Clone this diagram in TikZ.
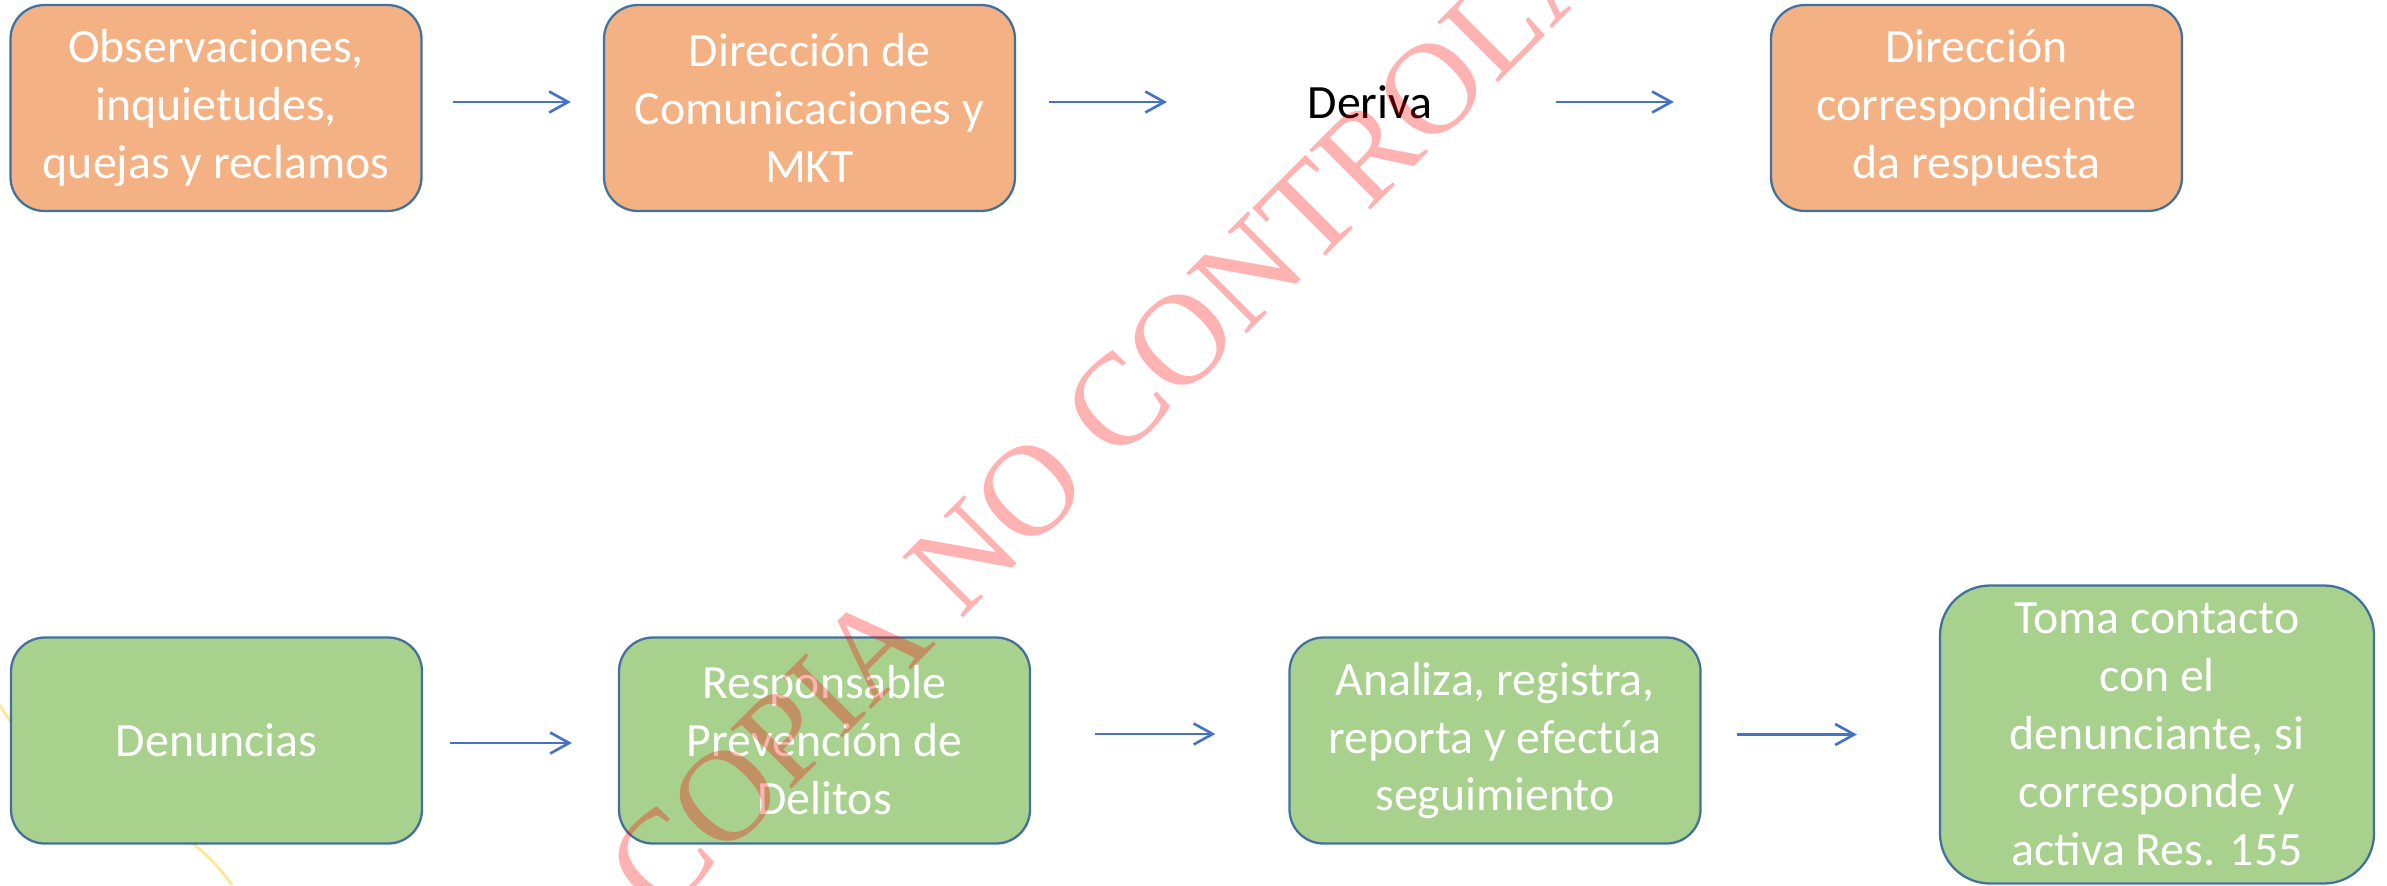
\documentclass[tikz,border=0pt]{standalone}
\usepackage{fontspec}
\setmainfont{Carlito}
\newfontfamily\wmfont{Liberation Serif}
\usepackage{tikz}
\usepackage{xcolor}
\usetikzlibrary{calc,arrows.meta}
\definecolor{boxline}{HTML}{41719C}
\definecolor{orangefill}{HTML}{F4B183}
\definecolor{greenfill}{HTML}{A9D18E}
\definecolor{arrowc}{HTML}{4472C4}
\definecolor{stampc}{HTML}{FFE699}

\begin{document}
\begin{tikzpicture}[
			pb/.style={rectangle, draw=boxline, line width=0.65pt, rounded corners=3.4mm, minimum width=4.11cm, minimum height=2.06cm, inner sep=2pt, text=white, align=center, font=\fontsize{13.6}{16.5}\selectfont},
			ob/.style={pb, fill=orangefill},
			gb/.style={pb, fill=greenfill},
			flow/.style={draw=arrowc, line width=0.75pt, -{Straight Barb[length=1.9mm,width=2.1mm]}},
			wm/.style={rotate=45, inner sep=0pt, text=red, text opacity=0.3, font=\wmfont\fontsize{37.1}{40}\selectfont}
				]
			\useasboundingbox (0,0) rectangle (23.87,8.85);
			\def\up{0.06cm}

			% faint stamp line behind the boxes
			\draw[stampc, line width=0.85pt] (0,1.80) .. controls (0.5,0.9) and (1.7,0.9) .. (2.32,0);

			%top
			\node[ob] at (2.16,7.77) (o1) {Observaciones,\\inquietudes,\\quejas y reclamos};
			\node[ob] at (8.095,7.77) (o2) {Dirección de\\Comunicaciones y\\MKT};
			\node[inner sep=0pt, font=\fontsize{13.6}{16.5}\selectfont] at (13.70,7.83) (der) {Deriva};
			\node[ob] at (19.765,7.77) (o4) {Dirección\\correspondiente\\da respuesta};

			\draw[flow] ([xshift=0.30cm,yshift=\up]o1.east) -- ([xshift=-0.32cm,yshift=\up]o2.west);
			\draw[flow] ([xshift=0.33cm,yshift=\up]o2.east) -- ([xshift=-1.40cm]der.west);
			\draw[flow] ([xshift=1.23cm]der.east) -- ([xshift=-0.96cm,yshift=\up]o4.west);

			%bottom
			\node[gb] at (2.165,1.445) (g1) {Denuncias};
			\node[gb] at (8.245,1.445) (g2) {Responsable\\Prevención de\\Delitos};
			\node[gb] at (14.95,1.445) (g3) {Analiza, registra,\\reporta y efectúa\\seguimiento};
			\node[gb, minimum width=4.34cm, minimum height=2.98cm, rounded corners=5mm] at (21.57,1.505) (g4) {Toma contacto\\con el\\denunciante, si\\corresponde y\\activa Res. 155};

			\draw[flow] ([xshift=0.27cm,yshift=-0.025cm]g1.east) -- ([xshift=-0.46cm,yshift=-0.025cm]g2.west);
			\draw[flow] ([xshift=0.64cm,yshift=0.065cm]g2.east) -- ([xshift=-0.73cm,yshift=0.065cm]g3.west);
			\draw[flow] ([xshift=0.35cm,yshift=\up]g3.east) -- ([xshift=-0.82cm]g4.west);

			% watermark on top
			\begin{scope}
				\clip (0,0) rectangle (23.87,8.85);
				\node[wm] at (11.76,5.40) (stamp) {COPIA NO CONTROLADA};
			\end{scope}
	\end{tikzpicture}
\end{document}
